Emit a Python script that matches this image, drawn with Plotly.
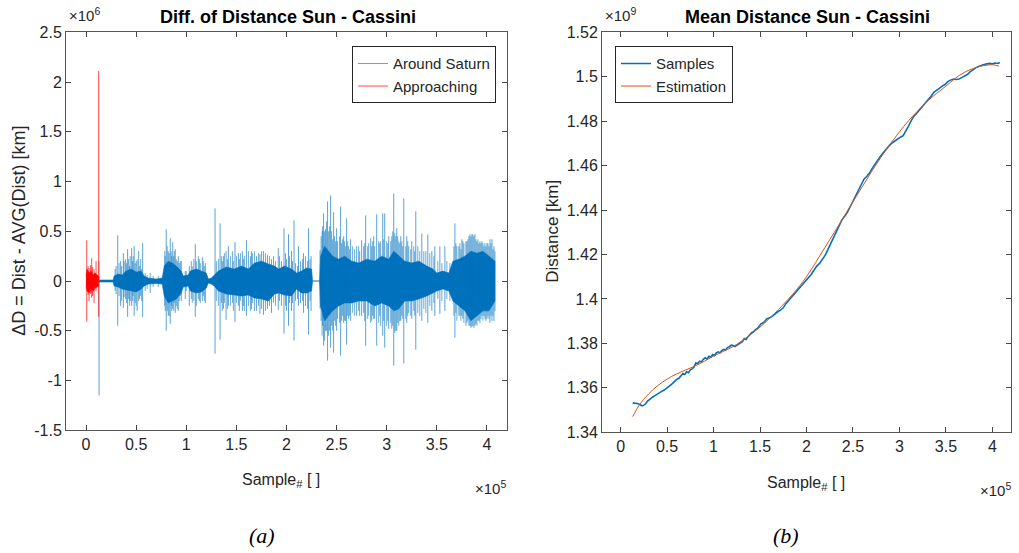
import plotly.graph_objects as go

# ---------------- Panel (a) data: x in 1e5 samples, y in 1e6 km ----------------
# Dense core envelope of "Around Saturn"
sat_core_x = [0.13, 0.27, 0.28, 0.32, 0.36, 0.40, 0.45, 0.50, 0.55, 0.58, 0.62, 0.70, 0.76,
              0.78, 0.82, 0.86, 0.90, 0.95, 0.97, 1.02, 1.04, 1.10, 1.15, 1.20, 1.22, 1.25,
              1.28, 1.32, 1.40, 1.48, 1.55, 1.62, 1.68, 1.75, 1.82, 1.88, 1.92, 1.98, 2.05,
              2.10, 2.15, 2.20, 2.25, 2.26, 2.33, 2.34, 2.38, 2.42, 2.46, 2.52, 2.58, 2.65,
              2.72, 2.80, 2.88, 2.95, 3.02, 3.07, 3.12, 3.18, 3.25, 3.32, 3.40, 3.46, 3.50,
              3.56, 3.62, 3.66, 3.72, 3.78, 3.84, 3.90, 3.96, 4.02, 4.08]
sat_core_hi = [0.01, 0.01, 0.05, 0.07, 0.06, 0.10, 0.12, 0.09, 0.10, 0.05, 0.03, 0.02, 0.03,
               0.15, 0.20, 0.18, 0.15, 0.10, 0.05, 0.06, 0.10, 0.12, 0.10, 0.08, 0.02, 0.03,
               0.06, 0.10, 0.14, 0.12, 0.15, 0.12, 0.18, 0.20, 0.17, 0.15, 0.12, 0.15, 0.12,
               0.08, 0.10, 0.13, 0.12, 0.00, 0.00, 0.25, 0.35, 0.30, 0.25, 0.22, 0.25, 0.20,
               0.18, 0.22, 0.20, 0.25, 0.22, 0.30, 0.25, 0.20, 0.18, 0.20, 0.15, 0.12, 0.08,
               0.10, 0.08, 0.20, 0.22, 0.25, 0.30, 0.28, 0.30, 0.25, 0.20]
sat_core_lo = [-0.01, -0.01, -0.05, -0.06, -0.08, -0.09, -0.10, -0.11, -0.08, -0.05, -0.03, -0.025, -0.03,
               -0.15, -0.22, -0.20, -0.18, -0.12, -0.06, -0.05, -0.10, -0.12, -0.11, -0.07, -0.02, -0.03,
               -0.05, -0.10, -0.13, -0.14, -0.15, -0.14, -0.17, -0.18, -0.20, -0.13, -0.12, -0.14, -0.15,
               -0.08, -0.12, -0.12, -0.10, 0.00, 0.00, -0.25, -0.40, -0.35, -0.30, -0.25, -0.22, -0.22,
               -0.20, -0.20, -0.25, -0.22, -0.25, -0.30, -0.28, -0.20, -0.20, -0.18, -0.15, -0.12, -0.10,
               -0.08, -0.10, -0.20, -0.25, -0.30, -0.40, -0.35, -0.30, -0.30, -0.20]
# Tall individual spikes of "Around Saturn": position, top, bottom
sat_spike_x = [0.13, 0.316, 0.345, 0.372, 0.395, 0.415, 0.44, 0.455, 0.48, 0.51, 0.525, 0.565, 0.64,
               0.80, 0.82, 0.84, 0.865, 0.89, 0.92, 0.95, 0.99, 1.03, 1.09, 1.13, 1.16, 1.19,
               1.287, 1.337, 1.37, 1.397, 1.42, 1.486, 1.52, 1.56, 1.60, 1.65, 1.70, 1.735, 1.77,
               1.81, 1.85, 1.918, 1.975, 2.02, 2.05, 2.075, 2.12, 2.17, 2.22, 2.245, 2.335, 2.37,
               2.39, 2.41, 2.44, 2.47, 2.50, 2.54, 2.57, 2.60, 2.64, 2.70, 2.75, 2.79, 2.84, 2.87,
               2.90, 2.96, 2.98, 3.02, 3.07, 3.10, 3.14, 3.17, 3.20, 3.25, 3.29, 3.35, 3.41, 3.45,
               3.48, 3.53, 3.58, 3.68, 3.72, 3.75, 3.80, 3.83, 3.85, 3.88, 3.92, 3.95, 4.00, 4.03,
               4.05, 4.07]
sat_spike_hi = [0.20, 0.46, 0.20, 0.28, 0.22, 0.32, 0.25, 0.33, 0.35, 0.22, 0.30, 0.38, 0.08,
                0.52, 0.30, 0.43, 0.39, 0.32, 0.25, 0.20, 0.10, 0.15, 0.37, 0.22, 0.24, 0.18,
                0.73, 0.58, 0.25, 0.30, 0.35, 0.39, 0.28, 0.30, 0.41, 0.30, 0.25, 0.27, 0.30,
                0.26, 0.22, 0.33, 0.53, 0.47, 0.30, 0.61, 0.35, 0.28, 0.53, 0.25, 0.31, 0.68,
                0.52, 0.80, 0.86, 0.69, 0.53, 0.75, 0.45, 0.63, 0.42, 0.35, 0.41, 0.66, 0.43, 0.45,
                0.67, 0.68, 0.68, 0.45, 0.88, 0.53, 0.45, 0.83, 0.45, 0.40, 0.70, 0.48, 0.47, 0.30,
                0.35, 0.35, 0.35, 0.58, 0.35, 0.42, 0.40, 0.47, 0.47, 0.47, 0.38, 0.40, 0.38, 0.42,
                0.42, 0.35]
sat_spike_lo = [-1.15, -0.45, -0.25, -0.27, -0.18, -0.36, -0.20, -0.25, -0.35, -0.30, -0.20, -0.36, -0.12,
                -0.50, -0.35, -0.43, -0.28, -0.32, -0.30, -0.20, -0.18, -0.25, -0.36, -0.20, -0.20, -0.22,
                -0.73, -0.59, -0.28, -0.39, -0.25, -0.41, -0.25, -0.30, -0.35, -0.28, -0.30, -0.33, -0.34,
                -0.28, -0.32, -0.29, -0.53, -0.45, -0.30, -0.60, -0.25, -0.32, -0.54, -0.30, -0.28, -0.65,
                -0.50, -0.80, -0.67, -0.72, -0.50, -0.75, -0.42, -0.64, -0.40, -0.35, -0.35, -0.65, -0.42, -0.38,
                -0.65, -0.55, -0.67, -0.48, -0.85, -0.50, -0.40, -0.83, -0.42, -0.38, -0.69, -0.40, -0.42, -0.30,
                -0.35, -0.33, -0.30, -0.57, -0.35, -0.35, -0.42, -0.45, -0.46, -0.45, -0.40, -0.35, -0.38, -0.42,
                -0.40, -0.40]
# Medium-height spikes that form the fuzzy fringe of the core
sat_mid_x = [0.29, 0.30, 0.33, 0.355, 0.38, 0.405, 0.425, 0.435, 0.465, 0.47, 0.49, 0.50, 0.535, 0.545,
             0.555, 0.59, 0.61, 0.67, 0.72, 0.785, 0.79, 0.81, 0.83, 0.85, 0.855, 0.875, 0.88, 0.90,
             0.91, 0.93, 0.94, 1.00, 1.05, 1.06, 1.075, 1.10, 1.12, 1.14, 1.17, 1.18, 1.30, 1.32,
             1.35, 1.36, 1.38, 1.41, 1.44, 1.46, 1.47, 1.50, 1.53, 1.54, 1.57, 1.58, 1.62, 1.64,
             1.66, 1.68, 1.72, 1.75, 1.79, 1.83, 1.87, 1.89, 1.93, 1.95, 1.99, 2.00, 2.03, 2.06,
             2.09, 2.11, 2.14, 2.16, 2.19, 2.21, 2.235, 2.345, 2.355, 2.36, 2.38, 2.40, 2.42, 2.43,
             2.45, 2.46, 2.48, 2.49, 2.51, 2.53, 2.55, 2.56, 2.58, 2.59, 2.61, 2.62, 2.63, 2.66,
             2.68, 2.72, 2.73, 2.77, 2.78, 2.81, 2.82, 2.85, 2.86, 2.88, 2.92, 2.93, 2.94, 2.97,
             3.00, 3.01, 3.04, 3.05, 3.06, 3.08, 3.09, 3.11, 3.12, 3.13, 3.15, 3.16, 3.19, 3.21,
             3.22, 3.24, 3.27, 3.28, 3.31, 3.33, 3.37, 3.39, 3.43, 3.47, 3.51, 3.55, 3.60, 3.63,
             3.67, 3.69, 3.70, 3.73, 3.74, 3.76, 3.77, 3.79, 3.81, 3.82, 3.84, 3.86, 3.87, 3.89,
             3.90, 3.91, 3.93, 3.94, 3.96, 3.97, 3.98, 3.99, 4.01, 4.02, 4.04, 4.06, 4.08]
sat_mid_hi = [0.12, 0.15, 0.18, 0.15, 0.20, 0.18, 0.22, 0.15, 0.20, 0.25, 0.18, 0.20, 0.15, 0.22,
              0.12, 0.08, 0.06, 0.05, 0.05, 0.30, 0.25, 0.35, 0.28, 0.30, 0.25, 0.25, 0.30, 0.22,
              0.20, 0.18, 0.20, 0.10, 0.20, 0.15, 0.22, 0.20, 0.25, 0.18, 0.20, 0.15, 0.20, 0.22,
              0.25, 0.20, 0.28, 0.22, 0.25, 0.30, 0.20, 0.25, 0.22, 0.28, 0.22, 0.25, 0.30, 0.25,
              0.28, 0.30, 0.28, 0.30, 0.28, 0.25, 0.25, 0.20, 0.25, 0.20, 0.28, 0.22, 0.25, 0.20,
              0.18, 0.15, 0.20, 0.22, 0.25, 0.20, 0.22, 0.45, 0.50, 0.55, 0.50, 0.60, 0.50, 0.55,
              0.50, 0.42, 0.45, 0.40, 0.40, 0.45, 0.38, 0.42, 0.40, 0.35, 0.40, 0.35, 0.32, 0.35,
              0.32, 0.35, 0.30, 0.35, 0.38, 0.35, 0.38, 0.35, 0.40, 0.35, 0.40, 0.38, 0.40, 0.42,
              0.40, 0.38, 0.40, 0.45, 0.50, 0.48, 0.45, 0.45, 0.40, 0.38, 0.40, 0.35, 0.35, 0.40,
              0.35, 0.32, 0.35, 0.30, 0.35, 0.30, 0.30, 0.30, 0.28, 0.25, 0.20, 0.18, 0.20, 0.18,
              0.35, 0.38, 0.35, 0.38, 0.32, 0.40, 0.38, 0.40, 0.42, 0.45, 0.45, 0.47, 0.45, 0.42,
              0.40, 0.42, 0.40, 0.38, 0.38, 0.35, 0.38, 0.35, 0.38, 0.35, 0.38, 0.32, 0.30]
sat_mid_lo = [-0.10, -0.13, -0.15, -0.20, -0.16, -0.22, -0.18, -0.25, -0.20, -0.15, -0.22, -0.25, -0.18, -0.15,
              -0.20, -0.10, -0.08, -0.06, -0.06, -0.25, -0.30, -0.30, -0.35, -0.25, -0.30, -0.30, -0.22, -0.25,
              -0.28, -0.20, -0.15, -0.10, -0.18, -0.22, -0.20, -0.25, -0.18, -0.22, -0.15, -0.20, -0.20, -0.25,
              -0.22, -0.30, -0.22, -0.28, -0.25, -0.22, -0.30, -0.22, -0.30, -0.20, -0.25, -0.30, -0.25, -0.30,
              -0.22, -0.30, -0.25, -0.28, -0.30, -0.25, -0.22, -0.25, -0.20, -0.25, -0.25, -0.30, -0.22, -0.22,
              -0.20, -0.18, -0.22, -0.20, -0.25, -0.28, -0.20, -0.40, -0.55, -0.45, -0.60, -0.50, -0.55, -0.50,
              -0.45, -0.50, -0.40, -0.45, -0.38, -0.42, -0.40, -0.35, -0.40, -0.40, -0.35, -0.38, -0.35, -0.32,
              -0.35, -0.30, -0.35, -0.32, -0.40, -0.38, -0.35, -0.40, -0.35, -0.38, -0.42, -0.35, -0.45, -0.40,
              -0.45, -0.40, -0.42, -0.48, -0.45, -0.52, -0.50, -0.42, -0.45, -0.40, -0.35, -0.38, -0.38, -0.35,
              -0.32, -0.35, -0.30, -0.35, -0.32, -0.35, -0.28, -0.32, -0.25, -0.22, -0.18, -0.20, -0.18, -0.20,
              -0.35, -0.32, -0.40, -0.35, -0.40, -0.38, -0.42, -0.45, -0.40, -0.45, -0.47, -0.45, -0.47, -0.43,
              -0.45, -0.40, -0.42, -0.38, -0.40, -0.35, -0.38, -0.40, -0.35, -0.38, -0.35, -0.35, -0.30]
# "Approaching" (red)
app_core_x = [0.0, 0.01, 0.03, 0.05, 0.07, 0.09, 0.11, 0.125]
app_core_hi = [0.05, 0.12, 0.08, 0.10, 0.06, 0.08, 0.06, 0.05]
app_core_lo = [-0.05, -0.10, -0.12, -0.08, -0.10, -0.07, -0.06, -0.05]
app_spike_x = [0.007, 0.02, 0.03, 0.045, 0.056, 0.065, 0.08, 0.10, 0.126]
app_spike_hi = [0.41, 0.15, 0.13, 0.16, 0.23, 0.14, 0.12, 0.20, 2.11]
app_spike_lo = [-0.41, -0.14, -0.20, -0.13, -0.17, -0.15, -0.22, -0.10, -0.36]

# ---------------- Panel (b) data: x in 1e5 samples, y in 1e9 km ----------------
est_x = [0.13, 0.2, 0.3, 0.4, 0.5, 0.6, 0.7, 0.8, 0.9, 1.0, 1.1, 1.2, 1.3, 1.4, 1.5, 1.6, 1.7,
         1.8, 1.9, 2.0, 2.1, 2.2, 2.3, 2.4, 2.5, 2.6, 2.7, 2.8, 2.9, 3.0, 3.1, 3.2, 3.3, 3.4,
         3.5, 3.6, 3.7, 3.8, 3.9, 4.0, 4.07]
est_y = [1.3470, 1.3522, 1.3572, 1.3610, 1.3639, 1.3662, 1.3680, 1.3698, 1.3719, 1.3743,
         1.3763, 1.3783, 1.3810, 1.3840, 1.3873, 1.3912, 1.3953, 1.3997, 1.4045, 1.4100,
         1.4165, 1.4233, 1.4300, 1.4368, 1.4438, 1.4505, 1.4573, 1.4637, 1.4697, 1.4752,
         1.4803, 1.4848, 1.4890, 1.4925, 1.4958, 1.4993, 1.5020, 1.5038, 1.5050, 1.5054, 1.5048]
smp_x = [0.13, 0.15, 0.17, 0.19, 0.21, 0.23, 0.25, 0.27, 0.29, 0.31, 0.33, 0.35, 0.37, 0.39,
         0.41, 0.43, 0.45, 0.47, 0.49, 0.51, 0.53, 0.55, 0.57, 0.59, 0.61, 0.63, 0.65, 0.67,
         0.69, 0.71, 0.73, 0.75, 0.77, 0.79, 0.81, 0.83, 0.85, 0.87, 0.89, 0.91, 0.93, 0.95,
         0.97, 0.99, 1.01, 1.03, 1.05, 1.07, 1.09, 1.11, 1.13, 1.15, 1.17, 1.19, 1.21, 1.23,
         1.25, 1.27, 1.29, 1.31, 1.33, 1.35, 1.37, 1.39, 1.41, 1.43, 1.45, 1.47, 1.49, 1.51,
         1.53, 1.55, 1.57, 1.59, 1.61, 1.63, 1.65, 1.67, 1.69, 1.72, 1.75, 1.78, 1.81, 1.84,
         1.87, 1.90, 1.93, 1.96, 1.99, 2.02, 2.05, 2.08, 2.11, 2.14, 2.17, 2.20, 2.23, 2.26,
         2.29, 2.32, 2.35, 2.38, 2.41, 2.44, 2.47, 2.50, 2.53, 2.56, 2.59, 2.62, 2.65, 2.68,
         2.71, 2.74, 2.77, 2.80, 2.83, 2.86, 2.89, 2.92, 2.95, 2.98, 3.01, 3.04, 3.07, 3.10,
         3.13, 3.16, 3.19, 3.22, 3.25, 3.28, 3.31, 3.34, 3.37, 3.40, 3.43, 3.46, 3.49, 3.52,
         3.55, 3.58, 3.61, 3.64, 3.67, 3.70, 3.73, 3.76, 3.79, 3.82, 3.85, 3.88, 3.91, 3.94,
         3.97, 4.00, 4.03, 4.06, 4.08]
smp_y = [1.3532, 1.3531, 1.3530, 1.3528, 1.3524, 1.3519, 1.3522, 1.3528, 1.3540, 1.3548,
         1.3552, 1.3560, 1.3565, 1.3571, 1.3576, 1.3580, 1.3586, 1.3590, 1.3598, 1.3604,
         1.3610, 1.3617, 1.3625, 1.3632, 1.3640, 1.3644, 1.3652, 1.3664, 1.3660, 1.3672,
         1.3668, 1.3681, 1.3685, 1.3693, 1.3712, 1.3708, 1.3720, 1.3716, 1.3728, 1.3735,
         1.3730, 1.3742, 1.3738, 1.3750, 1.3745, 1.3757, 1.3762, 1.3758, 1.3768, 1.3773,
         1.3770, 1.3781, 1.3785, 1.3792, 1.3790, 1.3786, 1.3791, 1.3798, 1.3803, 1.3808,
         1.3822, 1.3818, 1.3830, 1.3840, 1.3848, 1.3852, 1.3862, 1.3866, 1.3875, 1.3888,
         1.3892, 1.3898, 1.3910, 1.3912, 1.3916, 1.3922, 1.3930, 1.3938, 1.3942, 1.3950,
         1.3960, 1.3980, 1.3994, 1.4008, 1.4020, 1.4034, 1.4048, 1.4062, 1.4080, 1.4095,
         1.4110, 1.4128, 1.4148, 1.4160, 1.4178, 1.4196, 1.4222, 1.4250, 1.4275, 1.4300,
         1.4330, 1.4355, 1.4372, 1.4390, 1.4415, 1.4440, 1.4462, 1.4485, 1.4512, 1.4540,
         1.4552, 1.4568, 1.4590, 1.4610, 1.4630, 1.4645, 1.4660, 1.4676, 1.4690, 1.4702,
         1.4712, 1.4722, 1.4728, 1.4735, 1.4755, 1.4780, 1.4805, 1.4825, 1.4838, 1.4852,
         1.4865, 1.4880, 1.4898, 1.4912, 1.4930, 1.4940, 1.4950, 1.4958, 1.4965, 1.4978,
         1.4985, 1.4990, 1.4988, 1.4990, 1.4996, 1.5002, 1.5010, 1.5022, 1.5032, 1.5040,
         1.5046, 1.5052, 1.5055, 1.5058, 1.5060, 1.5058, 1.5062, 1.5060, 1.5064]

# tick labels
a_xticks = [0, 0.5, 1, 1.5, 2, 2.5, 3, 3.5, 4]
a_xlabels = ["0", "0.5", "1", "1.5", "2", "2.5", "3", "3.5", "4"]
a_yticks = [-1.5, -1, -0.5, 0, 0.5, 1, 1.5, 2, 2.5]
a_ylabels = ["-1.5", "-1", "-0.5", "0", "0.5", "1", "1.5", "2", "2.5"]
b_yticks = [1.34, 1.36, 1.38, 1.40, 1.42, 1.44, 1.46, 1.48, 1.50, 1.52]
b_ylabels = ["1.34", "1.36", "1.38", "1.4", "1.42", "1.44", "1.46", "1.48", "1.5", "1.52"]

BLUE = "#0072BD"
RED = "#FF0000"
ORANGE = "#D95319"
FONT = "Liberation Sans, Arial"
W, H = 1019, 553
# observed vertical mapping of the photographed page: shown_y = Y_OFF + Y_SCALE * figure_y
Y_OFF, Y_SCALE = 7.6, 0.9719


def spikes(xs, hi, lo):
    X, Y = [], []
    for x, a, b in zip(xs, hi, lo):
        X += [x, x, None]
        Y += [a, b, None]
    return X, Y


def band(xs, hi, lo):
    return list(xs) + list(xs)[::-1], list(hi) + list(lo)[::-1]


fig = go.Figure()
bx, by = band(sat_core_x, sat_core_hi, sat_core_lo)
fig.add_trace(go.Scatter(x=bx, y=by, fill="toself", fillcolor=BLUE, mode="lines",
                         line=dict(color=BLUE, width=0.6), showlegend=False, hoverinfo="skip",
                         xaxis="x", yaxis="y"))
mx, my = spikes(sat_mid_x, sat_mid_hi, sat_mid_lo)
fig.add_trace(go.Scatter(x=mx, y=my, mode="lines", showlegend=False, hoverinfo="skip",
                         line=dict(color="rgba(0,114,189,0.6)", width=1),
                         xaxis="x", yaxis="y"))
sx, sy = spikes(sat_spike_x, sat_spike_hi, sat_spike_lo)
fig.add_trace(go.Scatter(x=sx, y=sy, mode="lines", name="Around Saturn",
                         line=dict(color="rgba(0,114,189,0.65)", width=1),
                         xaxis="x", yaxis="y", legend="legend"))
bx, by = band(app_core_x, app_core_hi, app_core_lo)
fig.add_trace(go.Scatter(x=bx, y=by, fill="toself", fillcolor=RED, mode="lines",
                         line=dict(color=RED, width=0.6), showlegend=False, hoverinfo="skip",
                         xaxis="x", yaxis="y"))
sx, sy = spikes(app_spike_x, app_spike_hi, app_spike_lo)
fig.add_trace(go.Scatter(x=sx, y=sy, mode="lines", name="Approaching",
                         line=dict(color="rgba(255,0,0,0.7)", width=1),
                         xaxis="x", yaxis="y", legend="legend"))

fig.add_trace(go.Scatter(x=smp_x, y=smp_y, mode="lines", name="Samples",
                         line=dict(color=BLUE, width=1.6), xaxis="x2", yaxis="y2", legend="legend2"))
fig.add_trace(go.Scatter(x=est_x, y=est_y, mode="lines", name="Estimation", line_shape="spline",
                         line=dict(color=ORANGE, width=1), xaxis="x2", yaxis="y2", legend="legend2"))


def px(x):
    return x / W


def py(y):
    return 1 - ((y - Y_OFF) / Y_SCALE) / H


axis_common = dict(showgrid=False, zeroline=False, showline=True, mirror="ticks",
                   linecolor="#555555", linewidth=1, ticks="inside", ticklen=5,
                   tickcolor="#444444", tickfont=dict(family=FONT, size=16, color="#262626"))

fig.update_layout(
    width=W, height=H, margin=dict(l=0, r=0, t=0, b=0),
    paper_bgcolor="white", plot_bgcolor="white",
    xaxis=dict(domain=[px(66), px(507)], range=[-0.2, 4.2], tickvals=a_xticks, ticktext=a_xlabels,
               anchor="y", **axis_common),
    yaxis=dict(domain=[py(431), py(32)], range=[-1.5, 2.5], tickvals=a_yticks, ticktext=a_ylabels,
               anchor="x", **axis_common),
    xaxis2=dict(domain=[px(602), px(1011)], range=[-0.2, 4.2], tickvals=a_xticks, ticktext=a_xlabels,
                anchor="y2", **axis_common),
    yaxis2=dict(domain=[py(433), py(32)], range=[1.34, 1.52], tickvals=b_yticks, ticktext=b_ylabels,
                anchor="x2", **axis_common),
    legend=dict(x=px(496), y=py(46), xanchor="right", yanchor="top", bgcolor="white",
                bordercolor="#262626", borderwidth=1, font=dict(family=FONT, size=15, color="#262626")),
    legend2=dict(x=px(615), y=py(46), xanchor="left", yanchor="top", bgcolor="white",
                 bordercolor="#262626", borderwidth=1, font=dict(family=FONT, size=15, color="#262626")),
    showlegend=True,
)

ann = []


def text(x, y, s, size=15, angle=0, bold=False, family=FONT, italic=False, xanchor="center"):
    t = s
    if bold:
        t = "<b>" + t + "</b>"
    if italic:
        t = "<i>" + t + "</i>"
    ann.append(dict(x=px(x), y=py(y), xref="paper", yref="paper", text=t, showarrow=False,
                    textangle=angle, font=dict(family=family, size=size, color="#000000" if bold or italic else "#262626"),
                    xanchor=xanchor, yanchor="middle"))


text(288, 17, "Diff. of Distance Sun - Cassini", size=18, bold=True)
text(807, 17, "Mean Distance Sun - Cassini", size=18, bold=True)
text(67, 14, "×10<sup>6</sup>", size=15, xanchor="left")
text(603, 14, "×10<sup>9</sup>", size=15, xanchor="left")
text(508, 488, "×10<sup>5</sup>", size=15, xanchor="right")
text(1013, 490, "×10<sup>5</sup>", size=15, xanchor="right")
text(281, 481, "Sample<sub>#</sub> [ ]", size=16)
text(806, 484, "Sample<sub>#</sub> [ ]", size=16)
text(19, 231, "ΔD = Dist - AVG(Dist) [km]", size=18, angle=-90)
text(553, 232, "Distance [km]", size=17, angle=-90)
text(262, 537, "(a)", size=22, italic=True, family="Liberation Serif, Times New Roman, serif")
text(786, 537, "(b)", size=22, italic=True, family="Liberation Serif, Times New Roman, serif")
fig.update_layout(annotations=ann)

fig.write_html("out.html")
